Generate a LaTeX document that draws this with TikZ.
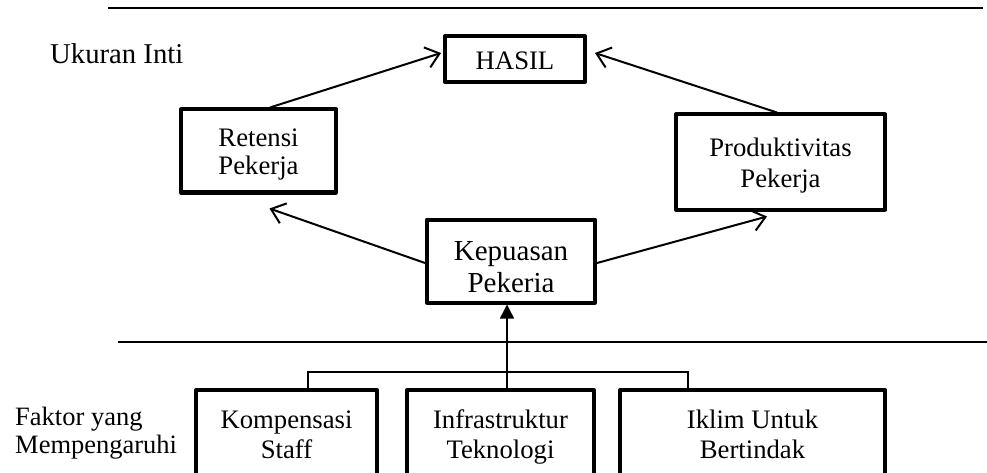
\documentclass[tikz,border=0pt]{standalone}
\usepackage{fontspec}
\setmainfont{Liberation Serif}
\usetikzlibrary{arrows.meta,calc}
\newcommand{\twolines}[3]{\raisebox{#1}[\height][\depth]{\begin{tabular}{@{}c@{}}#2\\#3\end{tabular}}}
\begin{document}
\begin{tikzpicture}[x=1pt,y=-1pt,
  box/.style={draw,line width=4pt,line join=round,inner sep=0pt,align=center,
    font=\fontsize{26.7}{30}\selectfont},
  retfont/.style={font=\fontsize{26.7}{28}\selectfont},
  bigbox/.style={box,font=\fontsize{29}{32}\selectfont},
  lbl/.style={inner sep=0pt,align=left,font=\fontsize{26.5}{28}\selectfont},
  openarrow/.style={line width=2pt,-{Straight Barb[length=13pt,width=21pt,line width=2pt]}},
  fillarrow/.style={line width=1.4pt,-{Triangle[length=14pt,width=14pt]}},
  sep/.style={line width=2pt},
  conn/.style={line width=1.4pt}]
\clip (0,0) rectangle (987,473);
\fill[white] (0,0) rectangle (987,473);

% separators
\coordinate (t1) at (108,8);
\coordinate (t2) at (983,8);
\draw[sep] (t1) -- (t2);
\coordinate (m1) at (118,342);
\coordinate (m2) at (990,342);
\draw[sep] (m1) -- (m2);

% labels
\node[lbl,anchor=base west,font=\fontsize{28.7}{30}\selectfont] (ukuran) at (50,64) {Ukuran Inti};
\node[lbl,anchor=west] (faktor) at (15,433.4) {\begin{tabular}{@{}l@{}}Faktor yang\\Mempengaruhi\end{tabular}};

% boxes
\node[box,minimum width=140,minimum height=46] (hasil) at (515,59) {\raisebox{-2pt}[\height][\depth]{HASIL}};
\node[box,retfont,minimum width=155,minimum height=83] (ret) at (258.5,151) {\twolines{-4.4pt}{Retensi}{Pekerja}};
\node[box,minimum width=209,minimum height=95] (prod) at (780.5,162) {\twolines{-4pt}{Produktivitas}{Pekerja}};
\node[bigbox,minimum width=168,minimum height=83] (kep) at (511,261) {\twolines{-8.6pt}{Kepuasan}{Pekeria}};
\node[box,minimum width=181,minimum height=100] (komp) at (286.5,440) {\twolines{3pt}{Kompensasi}{Staff}};
\node[box,minimum width=187,minimum height=100] (infra) at (500.5,440) {\twolines{3pt}{Infrastruktur}{Teknologi}};
\node[box,minimum width=265,minimum height=100] (iklim) at (752.5,440) {\twolines{3pt}{Iklim Untuk}{Bertindak}};

% arrows in core
\draw[openarrow] ($(ret.north)+(11.5,0)$) -- ($(hasil.west)+(-2,-6)$);
\draw[openarrow] ($(prod.north)+(-3.5,0)$) -- ($(hasil.east)+(8,-6)$);
\draw[openarrow] ($(kep.west)+(0,2)$) -- ($(ret.south)+(11,14)$);
\draw[openarrow] ($(kep.east)+(0,2)$) -- ($(prod.south)+(-13.5,5)$);

% factors
\draw[fillarrow] ($(infra.north)+(6.5,0)$) -- ($(kep.south)+(-4,0)$);
\coordinate (hl) at (308,372);
\coordinate (hr) at (688,372);
\draw[conn] (hl |- komp.north) -- (hl) -- (hr) -- (hr |- iklim.north);
\end{tikzpicture}
\end{document}
